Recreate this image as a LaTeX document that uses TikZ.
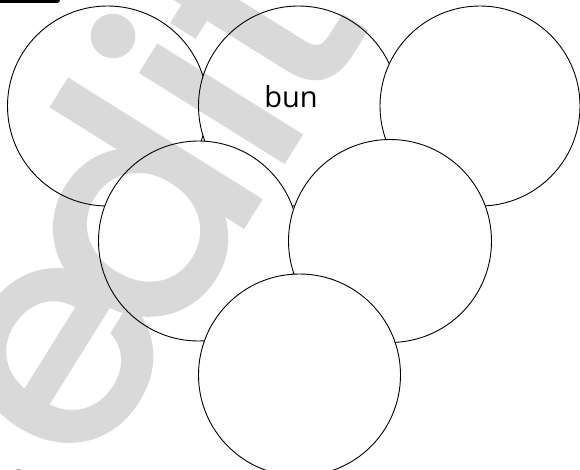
\documentclass[tikz,border=0pt]{standalone}
\usepackage{fontspec}
\newfontfamily\bunfont{Open Sans}
\newfontfamily\wmfont{Poppins}[FakeBold=2.5]
\begin{document}
\begin{tikzpicture}[x=1pt,y=-1pt,
  bubble/.style={circle, draw=black, line width=0.9pt, fill=white, minimum size=200pt, inner sep=0pt},
  wmark/.style={font=\wmfont\fontsize{300}{300}\selectfont, text=black, anchor=base, inner sep=0pt}]
\useasboundingbox (0,0) rectangle (580,470);
\fill[white] (0,0) rectangle (580,470);
% top-left black tab and bottom-left mark
\fill[black, rounded corners=3pt] (-10,-10) rectangle (60,3);
\fill[black] (18.5,474) ellipse (6 and 4.5);
% circles
\node[bubble] (c1) at (107.5,106) {};
\node[bubble] (c2) at (298.5,106) {};
\node[bubble] (c3) at (480,106) {};
\node[bubble] (c4) at (198.5,241) {};
\node[bubble, minimum size=203pt] (c5) at (390,241) {};
\node[bubble, minimum size=202pt] (c6) at (299.5,375) {};
\node[font=\bunfont\fontsize{29}{29}\selectfont, anchor=base, inner sep=0pt] (bun) at (291,108) {bun};
% watermark
\begin{scope}[transparency group, opacity=0.15]
\begin{scope}[shift={(236,199)}, x=1pt, y=1pt, rotate=58, transform shape]
\node[wmark] (wme) at (-225,-19) {e};
\node[wmark] (wmd) at (-68,-19) {d};
\node[wmark] (wmi) at (73,-19) {i};
\node[wmark] (wmt) at (165,-19) {t};
\end{scope}
\end{scope}
\end{tikzpicture}
\end{document}
